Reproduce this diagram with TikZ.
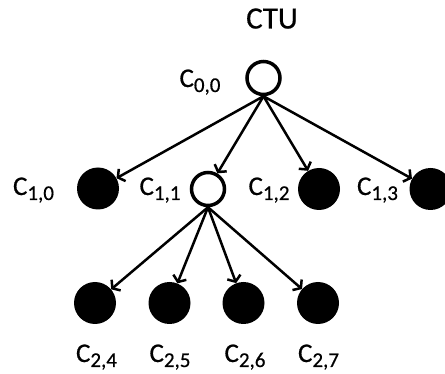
\documentclass[tikz,border=0pt]{standalone}
\usepackage{fontspec}
\setmainfont{Carlito}[FakeBold=0.6]
\usetikzlibrary{arrows.meta}

\newcommand{\clab}[1]{C\raisebox{-5pt}{\fontsize{21}{21}\selectfont #1}}

\tikzset{
  opennode/.style={circle, draw, line width=3.5pt, fill=white, minimum size=33pt, inner sep=0pt},
  fullnode/.style={circle, fill=black, minimum size=42pt, inner sep=0pt},
  lab/.style={font=\fontsize{27}{30}\selectfont, inner sep=0pt, anchor=base},
  arr/.style={line width=2.5pt, -{Straight Barb[length=5pt,width=14pt]}}
}

\begin{document}
\begin{tikzpicture}[x=1pt, y=-1pt]
    \useasboundingbox (0,0) rectangle (445,374);

        \node[lab, font=\fontsize{31}{33}\selectfont] (ctu) at (272,28.5) {CTU};

        \node[opennode] (c00) at (263.5,78) {};
        \node[lab] (l00) at (200,87) {\clab{0,0}};

        \node[fullnode] (c10) at (98,188.5) {};
        \node[opennode] (c11) at (208,189) {};
        \node[fullnode] (c12) at (319,189) {};
        \node[fullnode] (c13) at (430.5,189) {};
        \node[lab] (l10) at (33.5,195) {\clab{1,0}};
        \node[lab] (l11) at (160,195) {\clab{1,1}};
        \node[lab] (l12) at (269,195) {\clab{1,2}};
        \node[lab] (l13) at (377.5,195) {\clab{1,3}};

        \node[fullnode] (c24) at (95,303) {};
        \node[fullnode] (c25) at (169.5,303) {};
        \node[fullnode] (c26) at (243.5,303) {};
        \node[fullnode] (c27) at (318,303) {};
        \node[lab] (l24) at (96.5,362) {\clab{2,4}};
        \node[lab] (l25) at (170,362) {\clab{2,5}};
        \node[lab] (l26) at (245,362) {\clab{2,6}};
        \node[lab] (l27) at (318.5,362) {\clab{2,7}};

        \foreach \n in {c10,c11,c12,c13}
            \draw[arr] (c00.south) -- (\n);
        \foreach \n in {c24,c25,c26,c27}
            \draw[arr] (c11.south) -- (\n);

    \end{tikzpicture}
\end{document}
